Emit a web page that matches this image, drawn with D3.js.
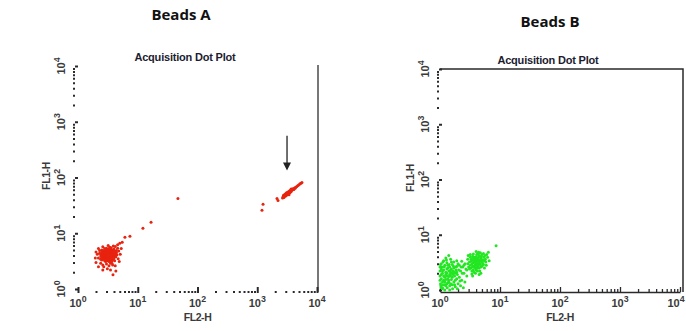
<!DOCTYPE html>
<html>
<head>
<meta charset="utf-8">
<script src="https://cdn.jsdelivr.net/npm/d3@7"></script>
<style>
  body { margin: 0; background: #fff; }
  svg { display: block; }
  text { font-family: "Liberation Sans", Arial, sans-serif; }
</style>
</head>
<body>
<div id="chart"></div>
<script>
(function(){

const width = 686;
const height = 331;

// decade tick labels (exponents) and all log ticks
const decades = [0, 1, 2, 3, 4];
const logTicks = [];
[1, 10, 100, 1000].forEach(p => d3.range(1, 10).forEach(m => logTicks.push(m * p)));
logTicks.push(10000);

// Beads A: low cluster, trail, and bright cluster (FL2-H, FL1-H)
const beadsA_low = [
  [3.2,4.0],[3.0,4.2],[3.4,3.9],[2.9,3.7],[3.5,4.3],[3.1,4.5],[3.3,3.6],[2.8,4.1],[3.6,4.0],[3.0,3.5],
  [3.4,4.6],[2.7,3.9],[3.7,3.7],[3.2,4.8],[2.9,4.4],[3.5,3.4],[3.1,3.3],[3.8,4.2],[2.8,3.4],[3.3,4.3],
  [3.6,4.7],[2.6,4.3],[3.0,4.9],[3.9,3.9],[3.2,3.2],[3.4,4.1],[2.7,3.6],[3.5,4.9],[3.1,3.9],[2.9,4.6],
  [3.7,4.4],[3.3,3.8],[2.8,3.8],[3.6,3.6],[3.0,4.0],[3.2,4.4],[3.4,3.5],[2.9,3.3],[3.8,3.5],[3.1,4.7],
  [2.6,3.7],[3.5,4.5],[3.3,5.0],[3.9,4.6],[2.7,4.6],[3.0,3.8],[3.6,4.3],[3.2,3.7],[2.8,4.5],[3.4,4.4],
  [3.1,3.6],[3.7,4.0],[2.9,4.0],[3.5,3.8],[3.3,4.6],[3.0,4.4],[3.6,3.3],[2.7,4.2],[3.8,4.8],[3.2,4.2],
  [3.4,3.7],[3.1,4.1],[2.8,3.2],[3.9,4.2],[3.0,3.2],[3.5,4.1],[3.3,3.4],[2.6,4.0],[3.7,5.0],[3.2,3.9],
  [2.9,4.8],[3.4,4.8],[3.6,3.9],[3.0,4.6],[3.1,3.4],[3.8,4.0],[2.7,3.4],[3.3,4.1],[3.5,3.6],[3.2,4.6],
  [2.5,4.1],[2.6,3.5],[4.0,4.0],[4.1,4.5],[3.9,3.4],[2.5,3.7],[3.0,5.1],[3.5,5.2],[4.0,4.9],[2.7,4.9],
  [3.4,3.2],[2.9,3.1],[3.7,3.2],[4.2,3.9],[2.4,4.3],[3.1,5.0],[3.8,4.5],[2.6,4.6],[3.3,3.1],[4.0,4.3],
  [2.4,3.9],[2.3,4.4],[2.5,3.3],[4.2,4.3],[4.3,3.8],[4.0,5.2],[2.5,5.0],[3.0,5.4],[3.6,5.5],[4.4,4.9],
  [2.2,3.6],[2.4,2.9],[3.0,2.8],[3.5,2.9],[4.1,3.2],[4.5,4.1],[2.6,2.7],[3.8,2.7],[4.0,3.6],[2.3,4.9],
  [2.8,5.3],[3.4,5.6],[4.6,5.4],[4.2,5.8],[2.1,4.2],[2.7,2.5],[3.3,2.6],[4.7,3.5],[3.9,5.9],[2.5,4.6],
  [4.4,4.5],[2.4,3.4],[3.2,5.2],[4.1,4.7],[3.7,2.9],
  [2.0,3.0],[2.0,4.6],[1.95,3.6],[2.2,2.5],[2.6,2.2],[3.1,2.3],[3.5,2.2],[3.85,1.8],[4.2,2.6],[4.9,3.1],
  [5.1,4.2],[4.8,4.8],[5.3,5.3],[4.6,6.2],[3.2,6.0],[2.6,5.7],[2.2,5.3],[5.0,6.6],[5.5,6.9],[4.3,2.1]
];
const beadsA_trail = [[6.1,8.5],[7.4,8.8],[12.2,12.3],[16.7,15.7],[47,42],[1250,33],[1200,25.8],[2140,42],[2225,38.8]];
const beadsA_high = [
  [2700,45],[2750,48],[2800,44],[2850,47],[2900,50],[2950,46],[3000,49],[3050,52],[3100,48],[3150,51],
  [3200,54],[3250,50],[3300,53],[3350,56],[3400,52],[3450,55],[3500,58],[3550,54],[3600,57],[3650,60],
  [3700,56],[3800,59],[3850,62],[3900,60],[4000,63],[4100,61],[4200,65],[4300,64],[4400,67],[4600,69],
  [4800,72],[5000,74],[5200,77],[5400,79],[5600,81],[2650,43],[3100,53],[3400,49],[3700,62]
];
// arrow marking the bright population: [FL2-H, FL1-H top, FL1-H tip]
const arrowA = [3150, 560, 133];

// Beads B: two dim clusters
const beadsB = [
  [1.05,1.6],[1.1,2.0],[1.2,1.4],[1.3,1.8],[1.15,2.3],[1.4,1.5],[1.5,2.1],[1.25,1.2],[1.6,1.7],[1.35,2.5],
  [1.02,1.3],[1.08,2.6],[1.45,1.9],[1.7,1.4],[1.55,2.4],[1.2,1.7],[1.3,1.3],[1.8,2.0],[1.1,1.1],[1.65,2.2],
  [1.4,2.2],[1.25,2.1],[1.5,1.3],[1.9,1.6],[1.15,1.5],[1.35,1.6],[1.6,2.0],[1.05,1.9],[1.75,1.8],[1.45,1.2],
  [1.2,2.8],[1.3,2.4],[1.0,2.2],[1.55,1.55],[1.85,2.3],[1.1,1.4],[1.4,1.75],[1.25,1.9],[1.7,2.5],[1.6,1.25],
  [1.05,2.4],[1.35,1.35],[1.5,1.8],[1.95,1.9],[1.15,1.8],[1.45,2.6],[1.3,2.0],[1.0,1.5],[1.8,1.5],[1.2,1.25],
  [1.65,1.9],[1.4,1.4],[1.1,2.2],[1.55,2.0],[1.25,1.55],[1.75,2.1],[1.35,2.8],[1.05,1.1],[1.5,2.3],[1.9,2.1],
  [2.1,1.7],[2.2,2.2],[2.0,1.3],[2.3,1.5],[2.4,2.6],[2.1,2.8],[1.9,2.7],[1.6,2.9],[1.3,3.1],[1.15,3.4],
  [1.25,3.8],[1.4,4.2],[1.05,3.0],[1.7,3.2],[2.0,3.0],[2.5,2.0],[2.6,1.4],[2.2,1.2],[1.8,1.15],[2.7,2.4],
  [2.3,3.3],[1.5,3.6],[2.8,1.8],[1.95,1.05],[2.45,1.1],[1.1,1.05],[1.45,1.0],[1.75,1.25],[2.6,3.0],[2.5,2.8],
  [1.02,2.9],[1.12,3.2],[1.0,1.8],[1.03,1.2],[1.18,2.6],[1.32,1.1],[1.62,1.05],[1.85,2.6],[2.05,2.3],[2.15,1.45],
  [1.28,3.5],[1.55,3.2],[1.0,2.6],[1.2,1.0],[1.9,3.4],[2.35,2.0],[1.12,1.25],[1.42,2.9],[1.68,2.7],[2.25,2.6],
  [4.1,3.0],[3.8,2.8],[4.4,3.2],[3.6,3.1],[4.7,2.9],[4.0,3.5],[3.9,2.5],[4.3,2.7],[3.5,2.7],[4.6,3.5],
  [4.2,3.8],[3.7,3.4],[4.9,3.3],[3.4,3.0],[4.5,2.5],[4.0,2.3],[3.3,2.5],[4.8,3.8],[3.8,3.9],[4.2,3.3],
  [3.6,2.3],[5.0,2.7],[3.9,3.2],[4.4,3.9],[3.2,2.8],[4.6,3.0],[3.7,2.6],[4.1,2.6],[5.2,3.5],[3.5,3.5],
  [4.3,3.6],[3.9,2.9],[4.7,3.3],[3.4,2.2],[4.0,4.0],[5.1,3.1],[3.6,3.8],[4.5,4.2],[3.1,3.2],[4.8,2.6],
  [4.2,2.2],[3.8,3.6],[5.4,3.9],[3.3,3.6],[4.4,2.9],[3.7,2.1],[4.9,4.1],[4.0,2.8],[5.6,4.2],[3.0,2.6],
  [4.6,2.2],[3.5,4.1],[5.3,2.9],[4.1,4.4],[3.2,3.9],[5.7,3.6],[4.3,4.6],[3.9,2.0],[5.0,4.4],[2.9,3.0],
  [6.0,4.4],[5.8,3.2],[3.6,4.5],[4.7,4.7],[2.8,2.3],[5.5,2.5],[4.5,1.9],[3.4,1.95],[6.2,3.9],[2.9,3.6],
  [3.3,3.3],[3.6,2.6],[4.2,2.5],[4.5,3.3],[3.8,3.2],[4.9,3.6],[3.1,2.4],[5.3,4.6],[4.4,4.8],[3.5,1.8],
  [5.9,2.8],[6.4,4.8],[2.95,4.2],[4.8,2.0],[5.5,3.4],[3.2,4.4],[4.0,5.0],[6.6,3.4],
  [8.6,6.3]
];

const svg = d3.select("#chart")
  .append("svg")
  .attr("width", width)
  .attr("height", height);

const isMajor = v => Math.abs(Math.log10(v) - Math.round(Math.log10(v))) < 1e-9;

function powLabel(sel, e, fs) {
  sel.append("tspan").text("10");
  sel.append("tspan").attr("dy", -fs * 0.45).style("font-size", (fs * 0.8) + "px").text(e);
}

function panel(cfg) {
  const x = d3.scaleLog().domain([1, 10000]).range(cfg.xr);
  const y = d3.scaleLog().domain([1, 10000]).range(cfg.yr);
  const g = svg.append("g");
  const ink = "#2a2a2a";
  const fs = 11;

  // headline
  g.append("text")
    .attr("x", cfg.headX).attr("y", cfg.headY)
    .attr("text-anchor", "middle")
    .style("font-family", "'Open Sans', sans-serif")
    .style("font-weight", 700)
    .style("font-size", "15px")
    .attr("fill", "#111")
    .text(cfg.head);

  g.append("text")
    .attr("x", cfg.titleX).attr("y", cfg.titleY)
    .attr("text-anchor", "middle")
    .style("font-weight", 700)
    .style("font-size", "11px")
    .style("letter-spacing", "-0.2px")
    .attr("fill", "#1c1c30")
    .text("Acquisition Dot Plot");

  // frame
  if (cfg.box) {
    g.append("path")
      .attr("d", `M${cfg.xr[0]},${cfg.yr[1]}H${cfg.rightX}V${cfg.axisY}`)
      .attr("fill", "none").attr("stroke", ink).attr("stroke-width", 1.5);
  } else {
    g.append("line")
      .attr("x1", cfg.rightX).attr("x2", cfg.rightX)
      .attr("y1", cfg.yr[1] - 1).attr("y2", cfg.axisY)
      .attr("stroke", "#555").attr("stroke-width", 1.6);
  }

  // x axis
  const gx = g.append("g")
    .attr("transform", `translate(0,${cfg.axisY})`)
    .call(d3.axisBottom(x).tickValues(logTicks).tickFormat("").tickSizeOuter(0));
  gx.selectAll("path.domain")
    .attr("stroke", cfg.box ? ink : "none").attr("stroke-width", 1.5);
  gx.selectAll(".tick line")
    .attr("stroke", ink)
    .attr("stroke-width", d => cfg.box ? 1.3 : 2)
    .attr("y1", d => cfg.box ? 0 : 1)
    .attr("y2", d => isMajor(d) ? -5 : (cfg.box ? -3 : -1));

  // y axis
  const gy = g.append("g")
    .attr("transform", `translate(${cfg.axisX},0)`)
    .call(d3.axisLeft(y).tickValues(logTicks).tickFormat("").tickSizeOuter(0));
  gy.select("path.domain").attr("stroke", "none");
  gy.selectAll(".tick line")
    .attr("stroke", ink)
    .attr("stroke-width", 2)
    .attr("x1", 1)
    .attr("x2", d => isMajor(d) ? 4 : -1);

  // tick labels
  decades.forEach(e => {
    const v = Math.pow(10, e);
    const px = Math.min(x(v), width - 10);
    const tx = g.append("text")
      .attr("x", px).attr("y", cfg.axisY + 15)
      .attr("text-anchor", "middle")
      .style("font-weight", 700).style("font-size", fs + "px")
      .attr("fill", "#3a3a3a");
    powLabel(tx, e, fs);
    const ty = g.append("text")
      .attr("transform", `translate(${cfg.axisX - 9},${y(v)}) rotate(-90)`)
      .attr("text-anchor", "middle")
      .style("font-weight", 700).style("font-size", fs + "px")
      .attr("fill", "#3a3a3a");
    powLabel(ty, e, fs);
  });

  // axis titles
  g.append("text")
    .attr("x", (cfg.xr[0] + cfg.xr[1]) / 2).attr("y", cfg.axisY + 29)
    .attr("text-anchor", "middle")
    .style("font-weight", 700).style("font-size", "10.5px")
    .style("letter-spacing", "-0.4px")
    .attr("fill", "#3a3a3a")
    .text("FL2-H");
  g.append("text")
    .attr("transform", `translate(${cfg.axisX - 24},${cfg.ylabY}) rotate(-90)`)
    .attr("text-anchor", "middle")
    .style("font-weight", 700).style("font-size", "10.5px")
    .style("letter-spacing", "-0.4px")
    .attr("fill", "#3a3a3a")
    .text("FL1-H");

  // events
  cfg.sets.forEach(s => {
    g.append("g").selectAll("circle")
      .data(s)
      .enter()
      .append("circle")
      .attr("cx", d => x(d[0]))
      .attr("cy", d => y(d[1]))
      .attr("r", 1.5)
      .attr("fill", cfg.color);
  });

  if (cfg.arrow) {
    const ax = x(cfg.arrow[0]), top = y(cfg.arrow[1]), tip = y(cfg.arrow[2]);
    g.append("line")
      .attr("x1", ax).attr("x2", ax).attr("y1", top).attr("y2", tip - 6)
      .attr("stroke", "#222").attr("stroke-width", 1.3);
    g.append("path")
      .attr("d", `M${ax - 4},${tip - 8}L${ax + 4},${tip - 8}L${ax},${tip}Z`)
      .attr("fill", "#222");
  }
}

panel({
  head: "Beads A", headX: 181, headY: 20,
  titleX: 185, titleY: 61,
  xr: [78, 317], yr: [289, 66],
  axisX: 74, axisY: 292, rightX: 318, ylabY: 176,
  box: false, color: "#e8230f",
  sets: [beadsA_low, beadsA_trail, beadsA_high],
  arrow: arrowA
});

panel({
  head: "Beads B", headX: 550, headY: 27,
  titleX: 548, titleY: 64,
  xr: [440, 680], yr: [290, 69],
  axisX: 438, axisY: 292, rightX: 683, ylabY: 178,
  box: true, color: "#22e622",
  sets: [beadsB],
  arrow: null
});

})();
</script>
</body>
</html>
